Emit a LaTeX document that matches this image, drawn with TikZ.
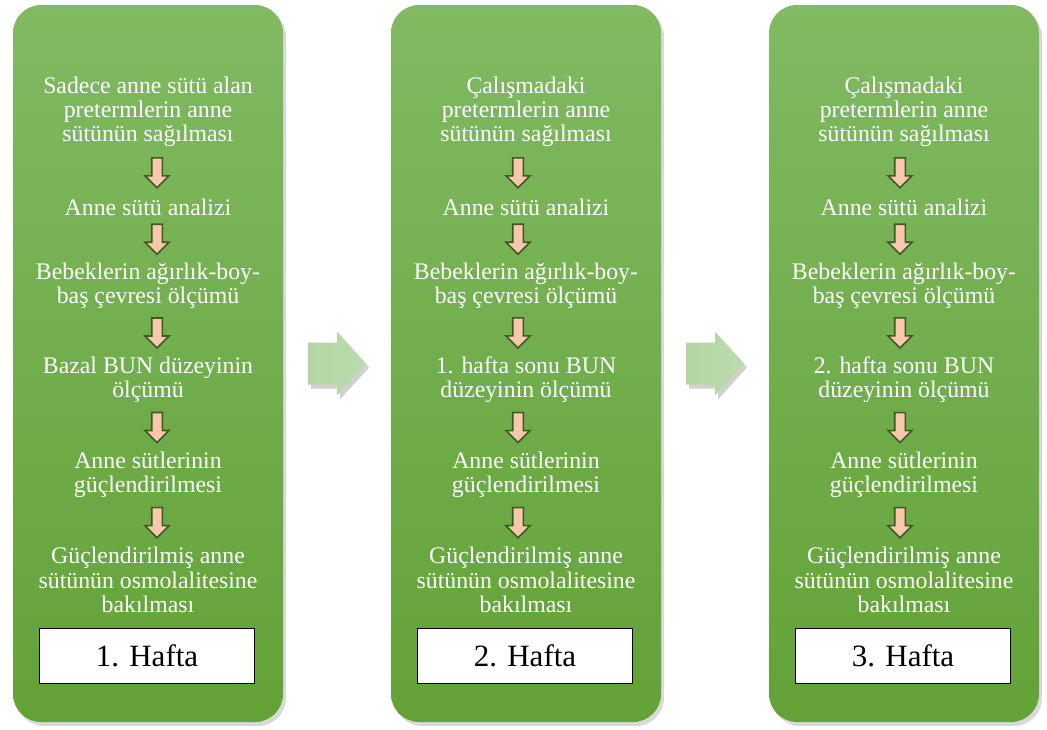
\documentclass[tikz,border=0pt]{standalone}
\usepackage{fontspec}
\setmainfont{Liberation Serif}
\usetikzlibrary{calc,shadows}

\begin{document}
\begin{tikzpicture}[x=1pt,y=-1pt,
    panel/.style={rounded corners=28pt, top color=paneltop, bottom color=panelbot,
        minimum width=270pt, minimum height=717pt, inner sep=0pt,
        drop shadow={shadow xshift=3pt, shadow yshift=-4pt, opacity=0.3}},
    steptext/.style={text=white, align=center, inner sep=0pt,
        font=\fontsize{23.8}{24.2}\selectfont},
    weekbox/.style={draw=black, fill=white, minimum width=215pt, minimum height=55pt,
        inner sep=0pt, font=\fontsize{31}{34}\selectfont},
    downarr/.pic={
        \filldraw[fill=arrowfill, draw=arrowline, line width=1.6pt, line join=miter]
            (-5.3,-15) -- (5.3,-15) -- (5.3,3) -- (12,3) -- (0,15) -- (-12,3) -- (-5.3,3) -- cycle;
    },
    rightarr/.pic={
        \fill[black, opacity=0.18] (-26,-17) -- (3,-17) -- (3,-28) -- (32,4) -- (3,36) -- (3,25) -- (-26,25) -- cycle;
        \shade[left color=bigarrowA, right color=bigarrowB]
            (-29,-21) -- (0,-21) -- (0,-32) -- (29,0) -- (0,32) -- (0,21) -- (-29,21) -- cycle;
    }]
    % Colors
    \definecolor{paneltop}{RGB}{129,186,98}
    \definecolor{panelbot}{RGB}{98,162,55}
    \definecolor{arrowfill}{RGB}{248,200,170}
    \definecolor{arrowline}{RGB}{62,88,40}
    \definecolor{bigarrowA}{RGB}{180,213,163}
    \definecolor{bigarrowB}{RGB}{188,219,173}

    \useasboundingbox (0,0) rectangle (1047,729);

    % Three weekly columns
    \foreach \cx/\dx/\wk/\first/\bun in {
        148/9/1/{Sadece anne sütü alan\\pretermlerin anne\\sütünün sağılması}/{Bazal BUN düzeyinin\\ölçümü},
        526/-8/2/{Çalışmadaki\\pretermlerin anne\\sütünün sağılması}/{1. hafta sonu BUN\\düzeyinin ölçümü},
        904/-4/3/{Çalışmadaki\\pretermlerin anne\\sütünün sağılması}/{2. hafta sonu BUN\\düzeyinin ölçümü}} {
        % Panel
        \node[panel] (p\wk) at (\cx,363.5) {};

        % Steps
        \node[steptext] (s\wk-1) at (\cx,112) {\first};
        \node[steptext] (s\wk-2) at (\cx,207) {Anne sütü analizi};
        \node[steptext] (s\wk-3) at (\cx,286) {Bebeklerin ağırlık-boy-\\baş çevresi ölçümü};
        \node[steptext] (s\wk-4) at (\cx,380) {\bun};
        \node[steptext] (s\wk-5) at (\cx,475) {Anne sütlerinin\\güçlendirilmesi};
        \node[steptext] (s\wk-6) at (\cx,580) {Güçlendirilmiş anne\\sütünün osmolalitesine\\bakılması};

        % Arrows between steps
        \foreach \i [evaluate=\i as \j using int(\i+1)] in {1,...,5} {
            \pic at ($(s\wk-\i.south)!0.5!(s\wk-\j.north)+(\dx,0)$) {downarr};
        }

        % Week label
        \node[weekbox] (w\wk) at (\cx-1,656) {\wk. Hafta};
    }

    % Arrows between weeks
    \pic at ($(p1.east)!0.5!(p2.west)$) {rightarr};
    \pic at ($(p2.east)!0.5!(p3.west)$) {rightarr};
\end{tikzpicture}
\end{document}
